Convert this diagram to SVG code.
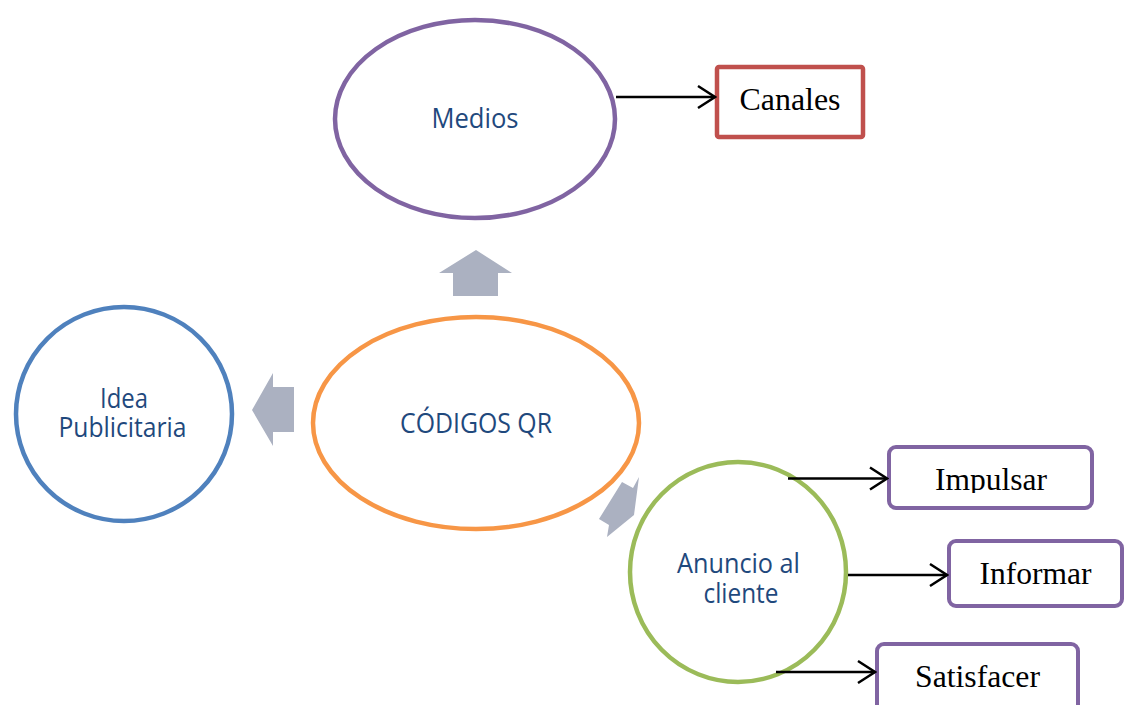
<svg xmlns="http://www.w3.org/2000/svg" width="1132" height="705" viewBox="0 0 1132 705">
<style>
.lbl{font-family:"Open Sans","Noto Sans","Liberation Sans",sans-serif;font-size:27px;fill:#1F497D;text-anchor:middle}
.tm{font-family:"Liberation Serif","Times New Roman",serif;font-size:31px;fill:#000;text-anchor:middle}
.blk{fill:#ABB1C1}
.box{fill:#fff;stroke:#8064A2;stroke-width:4}
.conn{stroke:#000;stroke-width:2.5;fill:none}
</style>
<defs>
<marker id="ah" viewBox="-20 -14 22 28" refX="0" refY="0" markerWidth="22" markerHeight="28" markerUnits="userSpaceOnUse" orient="auto">
<path d="M-17,-11 L0,0 L-17,11" fill="none" stroke="#000" stroke-width="2.5"/>
</marker>
<clipPath id="clipImp"><rect x="880" y="440" width="220" height="53"/></clipPath>
</defs>
<rect width="1132" height="705" fill="#fff"/>

<g id="block-arrows">
<polygon class="blk" points="476,250 512,273 498,273 498,296 453,296 453,273 439,273"/>
<polygon class="blk" points="252,410 273,373 273,387 294,387 294,432 273,432 273,446"/>
<polygon class="blk" points="622,482 633,488 639,477 634,515 607,537 609,525 599,519"/>
</g>

<g id="node-medios">
<ellipse cx="475" cy="119" rx="140" ry="99" fill="#fff" stroke="#8064A2" stroke-width="4.5"/>
<text class="lbl" x="475" y="128.3" textLength="87" lengthAdjust="spacingAndGlyphs">Medios</text>
</g>

<g id="node-codigos">
<ellipse cx="476" cy="423" rx="163" ry="106" fill="#fff" stroke="#F79646" stroke-width="4.5"/>
<text class="lbl" x="476" y="432.5" textLength="152" lengthAdjust="spacingAndGlyphs">CÓDIGOS QR</text>
</g>

<g id="node-idea">
<ellipse cx="124" cy="414" rx="108" ry="107" fill="#fff" stroke="#4F81BD" stroke-width="4.5"/>
<text class="lbl"><tspan x="124" y="408.3" textLength="48" lengthAdjust="spacingAndGlyphs">Idea</tspan><tspan x="122.5" y="437.3" textLength="128" lengthAdjust="spacingAndGlyphs">Publicitaria</tspan></text>
</g>

<g id="node-anuncio">
<ellipse cx="738" cy="572" rx="108" ry="110" fill="#fff" stroke="#9BBB59" stroke-width="4.5"/>
<text class="lbl"><tspan x="738.5" y="573.3" textLength="123" lengthAdjust="spacingAndGlyphs">Anuncio al</tspan><tspan x="741" y="602.7" textLength="75" lengthAdjust="spacingAndGlyphs">cliente</tspan></text>
</g>

<g id="node-canales">
<rect x="717" y="67" width="146" height="70" rx="2" fill="#fff" stroke="#C0504D" stroke-width="4.5"/>
<text class="tm" x="790" y="110" textLength="101" lengthAdjust="spacingAndGlyphs">Canales</text>
</g>

<g id="node-impulsar">
<rect class="box" x="889" y="447" width="203" height="61" rx="7"/>
<text class="tm" x="991" y="490" textLength="112" lengthAdjust="spacingAndGlyphs" clip-path="url(#clipImp)">Impulsar</text>
</g>

<g id="node-informar">
<rect class="box" x="949" y="541" width="173" height="65" rx="7"/>
<text class="tm" x="1035.5" y="584" textLength="112" lengthAdjust="spacingAndGlyphs">Informar</text>
</g>

<g id="node-satisfacer">
<rect class="box" x="877" y="644" width="201" height="72" rx="7"/>
<text class="tm" x="977.5" y="687" textLength="125" lengthAdjust="spacingAndGlyphs">Satisfacer</text>
</g>

<g id="connectors">
<line class="conn" x1="616" y1="97" x2="715" y2="97" marker-end="url(#ah)"/>
<line class="conn" x1="788" y1="478.5" x2="887" y2="478.5" marker-end="url(#ah)"/>
<line class="conn" x1="848" y1="575" x2="947" y2="575" marker-end="url(#ah)"/>
<line class="conn" x1="776" y1="672" x2="875" y2="672" marker-end="url(#ah)"/>
</g>
</svg>
